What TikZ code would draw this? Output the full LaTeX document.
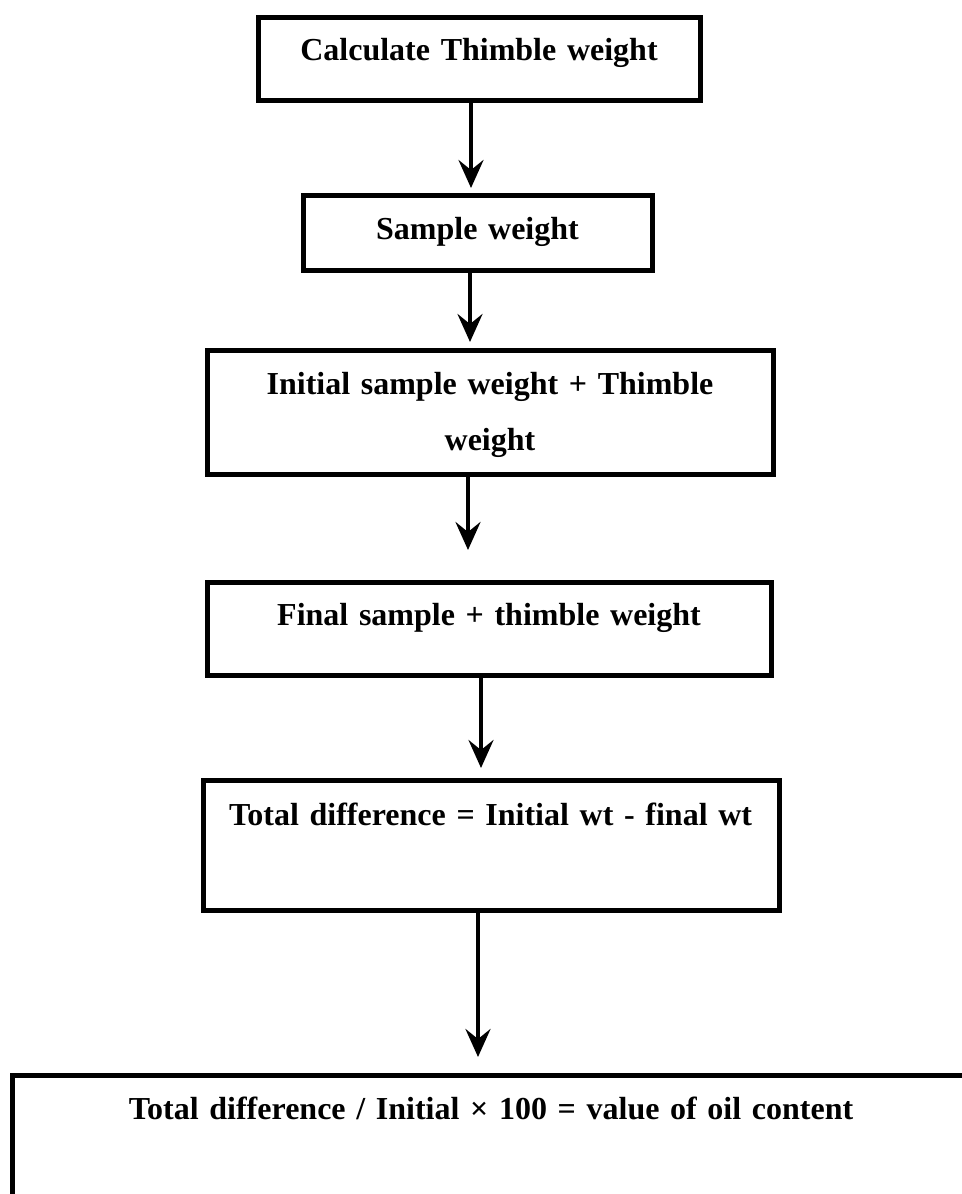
\documentclass[tikz,border=0pt]{standalone}
\usepackage{fontspec}
\setmainfont{Liberation Serif}
\usetikzlibrary{arrows.meta}

\begin{document}
\begin{tikzpicture}[x=0.5pt,y=-0.5pt,
        box/.style={draw,line width=2.5pt,inner sep=0pt,anchor=north,align=center,font=\fontsize{16}{28}\selectfont\bfseries},
        flow/.style={line width=2pt,-{Stealth[length=14pt,width=12.5pt,inset=5pt]}}]
        \useasboundingbox (0,0) rectangle (962,1194);
		\node[box,text width=221pt,text height=21.5pt,text depth=20pt] (thimble) at (479,15) {Calculate Thimble weight};
		\node[box,text width=174.5pt,text height=22pt,text depth=15.5pt] (sample) at (477.5,193) {Sample weight};
		\node[box,text width=283pt,text height=22pt,text depth=40pt] (initial) at (490,348) {Initial sample weight + Thimble\\ weight};
		\node[box,text width=282pt,text height=21.5pt,text depth=25pt] (final) at (489,580) {Final sample + thimble weight};
		\node[box,align=left,text width=288pt,text height=22.5pt,text depth=42.5pt] (diff) at (491,778) {\hspace*{13pt}Total difference = Initial wt - final wt};
		\node[box,text width=479pt,text height=22pt,text depth=56.5pt] (oil) at (491,1073) {Total difference / Initial × 100 = value of oil content};
        \draw[flow,shorten >=2.5pt] (thimble.south -| 471,0) -- (sample.north -| 471,0);
        \draw[flow,shorten >=3pt] (sample.south -| 470,0) -- (initial.north -| 470,0);
        \draw[flow,shorten >=15pt] (initial.south -| 468,0) -- (final.north -| 468,0);
        \draw[flow,shorten >=5pt] (final.south -| 481,0) -- (diff.north -| 481,0);
        \draw[flow,shorten >=8pt] (diff.south -| 478,0) -- (oil.north -| 478,0);
	\end{tikzpicture}
\end{document}
